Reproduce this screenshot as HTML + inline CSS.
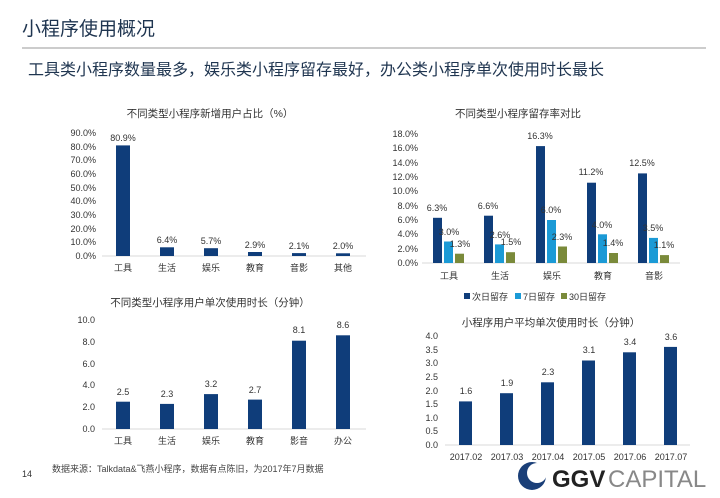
<!DOCTYPE html>
<html><head><meta charset="utf-8"><style>
html,body{margin:0;padding:0;background:#fff;}
svg{display:block;font-family:"Liberation Sans","Noto Sans CJK SC",sans-serif;}
</style></head><body>
<svg width="720" height="498" viewBox="0 0 720 498">
<text x="22" y="35" font-size="19" fill="#1f3550">小程序使用概况</text>
<line x1="22" y1="48" x2="706" y2="48" stroke="#9a9a9a" stroke-width="1"/>
<text x="28" y="75" font-size="16" fill="#1f3550">工具类小程序数量最多，娱乐类小程序留存最好，办公类小程序单次使用时长最长</text>

<!-- Chart 1 -->
<g font-size="9" fill="#333">
<text x="210" y="117" font-size="10.5" text-anchor="middle" fill="#333">不同类型小程序新增用户占比（%）</text>
<g text-anchor="end">
<text x="96" y="136">90.0%</text><text x="96" y="150">80.0%</text><text x="96" y="163">70.0%</text><text x="96" y="177">60.0%</text><text x="96" y="191">50.0%</text><text x="96" y="204">40.0%</text><text x="96" y="218">30.0%</text><text x="96" y="232">20.0%</text><text x="96" y="245">10.0%</text><text x="96" y="259">0.0%</text>
</g>
<line x1="102" y1="256" x2="366" y2="256" stroke="#d9d9d9"/>
<g fill="#0f3d7a">
<rect x="116" y="145.4" width="14" height="110.6"/><rect x="160" y="247.3" width="14" height="8.7"/><rect x="204" y="248.2" width="14" height="7.8"/><rect x="248" y="252" width="14" height="4"/><rect x="292" y="253.1" width="14" height="2.9"/><rect x="336" y="253.3" width="14" height="2.7"/>
</g>
<g text-anchor="middle">
<text x="123" y="141">80.9%</text><text x="167" y="243">6.4%</text><text x="211" y="244">5.7%</text><text x="255" y="248">2.9%</text><text x="299" y="249">2.1%</text><text x="343" y="249">2.0%</text>
<text x="123" y="271">工具</text><text x="167" y="271">生活</text><text x="211" y="271">娱乐</text><text x="255" y="271">教育</text><text x="299" y="271">音影</text><text x="343" y="271">其他</text>
</g>
</g>

<!-- Chart 2 -->
<g font-size="9" fill="#333">
<text x="518" y="117" font-size="10.5" text-anchor="middle">不同类型小程序留存率对比</text>
<g text-anchor="end">
<text x="418" y="137">18.0%</text><text x="418" y="151">16.0%</text><text x="418" y="166">14.0%</text><text x="418" y="180">12.0%</text><text x="418" y="194">10.0%</text><text x="418" y="209">8.0%</text><text x="418" y="223">6.0%</text><text x="418" y="237">4.0%</text><text x="418" y="252">2.0%</text><text x="418" y="266">0.0%</text>
</g>
<line x1="422" y1="263" x2="680" y2="263" stroke="#d9d9d9"/>
<g>
<rect x="433" y="217.8" width="9" height="45.2" fill="#0f3d7a"/><rect x="444" y="241.5" width="9" height="21.5" fill="#1b9ad6"/><rect x="455" y="253.7" width="9" height="9.3" fill="#7a8a3a"/>
<rect x="484" y="215.7" width="9" height="47.3" fill="#0f3d7a"/><rect x="495" y="244.4" width="9" height="18.6" fill="#1b9ad6"/><rect x="506" y="252.2" width="9" height="10.8" fill="#7a8a3a"/>
<rect x="536" y="146.1" width="9" height="116.9" fill="#0f3d7a"/><rect x="547" y="220" width="9" height="43" fill="#1b9ad6"/><rect x="558" y="246.5" width="9" height="16.5" fill="#7a8a3a"/>
<rect x="587" y="182.7" width="9" height="80.3" fill="#0f3d7a"/><rect x="598" y="234.3" width="9" height="28.7" fill="#1b9ad6"/><rect x="609" y="253" width="9" height="10" fill="#7a8a3a"/>
<rect x="638" y="173.4" width="9" height="89.6" fill="#0f3d7a"/><rect x="649" y="237.9" width="9" height="25.1" fill="#1b9ad6"/><rect x="660" y="255.1" width="9" height="7.9" fill="#7a8a3a"/>
</g>
<g text-anchor="middle">
<text x="437" y="211">6.3%</text><text x="449" y="235">3.0%</text><text x="460" y="247">1.3%</text>
<text x="488" y="209">6.6%</text><text x="500" y="238">2.6%</text><text x="511" y="245">1.5%</text>
<text x="540" y="139">16.3%</text><text x="551" y="213">6.0%</text><text x="562" y="240">2.3%</text>
<text x="591" y="175">11.2%</text><text x="602" y="228">4.0%</text><text x="613" y="246">1.4%</text>
<text x="642" y="166">12.5%</text><text x="653" y="231">3.5%</text><text x="664" y="248">1.1%</text>
<text x="449" y="279">工具</text><text x="500" y="279">生活</text><text x="552" y="279">娱乐</text><text x="603" y="279">教育</text><text x="654" y="279">音影</text>
</g>
<rect x="464" y="293" width="6" height="6" fill="#0f3d7a"/><text x="472" y="300">次日留存</text>
<rect x="515" y="293" width="6" height="6" fill="#1b9ad6"/><text x="523" y="300">7日留存</text>
<rect x="561" y="293" width="6" height="6" fill="#7a8a3a"/><text x="569" y="300">30日留存</text>
</g>

<!-- Chart 3 -->
<g font-size="9" fill="#333">
<text x="210" y="306" font-size="10.5" text-anchor="middle">不同类型小程序用户单次使用时长（分钟）</text>
<g text-anchor="end">
<text x="95" y="323">10.0</text><text x="95" y="345">8.0</text><text x="95" y="367">6.0</text><text x="95" y="388">4.0</text><text x="95" y="410">2.0</text><text x="95" y="432">0.0</text>
</g>
<line x1="102" y1="429" x2="366" y2="429" stroke="#d9d9d9"/>
<g fill="#0f3d7a">
<rect x="116" y="401.7" width="14" height="27.3"/><rect x="160" y="403.9" width="14" height="25.1"/><rect x="204" y="394.1" width="14" height="34.9"/><rect x="248" y="399.6" width="14" height="29.4"/><rect x="292" y="340.7" width="14" height="88.3"/><rect x="336" y="335.3" width="14" height="93.7"/>
</g>
<g text-anchor="middle">
<text x="123" y="395">2.5</text><text x="167" y="397">2.3</text><text x="211" y="387">3.2</text><text x="255" y="393">2.7</text><text x="299" y="333">8.1</text><text x="343" y="328">8.6</text>
<text x="123" y="444">工具</text><text x="167" y="444">生活</text><text x="211" y="444">娱乐</text><text x="255" y="444">教育</text><text x="299" y="444">影音</text><text x="343" y="444">办公</text>
</g>
</g>

<!-- Chart 4 -->
<g font-size="9" fill="#333">
<text x="551" y="326" font-size="10.5" text-anchor="middle">小程序用户平均单次使用时长（分钟）</text>
<g text-anchor="end">
<text x="438" y="339">4.0</text><text x="438" y="353">3.5</text><text x="438" y="366">3.0</text><text x="438" y="380">2.5</text><text x="438" y="394">2.0</text><text x="438" y="407">1.5</text><text x="438" y="421">1.0</text><text x="438" y="434">0.5</text><text x="438" y="448">0.0</text>
</g>
<line x1="445" y1="445" x2="690" y2="445" stroke="#d9d9d9"/>
<g fill="#0f3d7a">
<rect x="459" y="401.4" width="13" height="43.6"/><rect x="500" y="393.2" width="13" height="51.8"/><rect x="541" y="382.3" width="13" height="62.7"/><rect x="582" y="360.5" width="13" height="84.5"/><rect x="623" y="352.3" width="13" height="92.7"/><rect x="664" y="346.9" width="13" height="98.1"/>
</g>
<g text-anchor="middle">
<text x="466" y="394">1.6</text><text x="507" y="386">1.9</text><text x="548" y="375">2.3</text><text x="589" y="353">3.1</text><text x="630" y="345">3.4</text><text x="671" y="340">3.6</text>
<text x="466" y="460">2017.02</text><text x="507" y="460">2017.03</text><text x="548" y="460">2017.04</text><text x="589" y="460">2017.05</text><text x="630" y="460">2017.06</text><text x="671" y="460">2017.07</text>
</g>
</g>

<!-- footer -->
<text x="22" y="477" font-size="9" fill="#333">14</text>
<text x="52" y="472" font-size="9" fill="#444">数据来源：Talkdata&amp;飞燕小程序，数据有点陈旧，为2017年7月数据</text>
<circle cx="532" cy="476" r="14" fill="#1a3f78"/>
<circle cx="537" cy="473" r="10" fill="#fff"/>
<text x="552" y="487" font-size="24" fill="#222" font-weight="bold">GGV</text>
<text x="608" y="487" font-size="24" fill="#888">CAPITAL</text>
</svg>
</body></html>
